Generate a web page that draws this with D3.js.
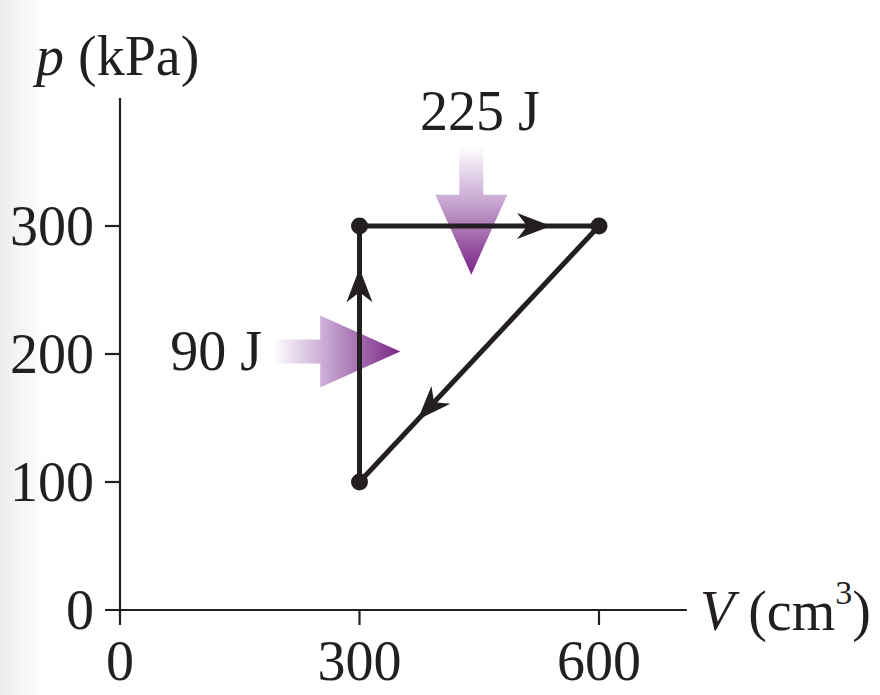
<!DOCTYPE html>
<html><head><meta charset="utf-8">
<script src="https://cdn.jsdelivr.net/npm/d3@7"></script>
<style>html,body{margin:0;padding:0;background:#fff}svg{display:block}</style>
</head><body>
<svg id="c" width="880" height="695"></svg>
<script>
// ---- data ----
const cycleV = [300, 300, 600, 300];          // cm^3
const cycleP = [100, 300, 300, 100];          // kPa
const vertexV = [300, 300, 600];
const vertexP = [100, 300, 300];
const arrowFrac = [0.835, 0.8, 0.757];        // position of direction arrow along each segment
const xTicks = [0, 300, 600];
const yTicks = [0, 100, 200, 300];
const heatLabels = ["225 J", "90 J"];
const heatTipV = [440, 351];
const heatTipP = [262, 202];

const svg = d3.select("#c");
const font = "'Liberation Serif','Times New Roman',serif";
const x = d3.scaleLinear().domain([0, 710]).range([120, 120 + 710 * (479 / 600)]);
const y = d3.scaleLinear().domain([0, 400]).range([610, 98]);

const defs = svg.append("defs");
// faint left margin shading
const lg = defs.append("linearGradient").attr("id", "edge").attr("x1", 0).attr("x2", 1);
lg.append("stop").attr("offset", 0).attr("stop-color", "#ececec");
lg.append("stop").attr("offset", 1).attr("stop-color", "#ffffff");
svg.append("rect").attr("x", 0).attr("y", 0).attr("width", 45).attr("height", 695).attr("fill", "url(#edge)");

// axes
const ax = svg.append("g").attr("stroke", "#231f20").attr("stroke-width", 2.2);
ax.append("line").attr("x1", x(0)).attr("x2", x(0)).attr("y1", y(400)).attr("y2", y(0) + 15);
ax.append("line").attr("x1", x(0) - 15).attr("x2", x(710)).attr("y1", y(0)).attr("y2", y(0));
ax.selectAll(".yt").data(yTicks.filter(d => d > 0)).join("line")
  .attr("x1", x(0) - 15).attr("x2", x(0)).attr("y1", d => y(d)).attr("y2", d => y(d));
ax.selectAll(".xt").data(xTicks.filter(d => d > 0)).join("line")
  .attr("x1", d => x(d)).attr("x2", d => x(d)).attr("y1", y(0)).attr("y2", y(0) + 15);

const txt = svg.append("g").attr("font-family", font).attr("font-size", 56).attr("fill", "#231f20");
txt.selectAll(".yl").data(yTicks).join("text")
  .attr("x", 94).attr("y", d => y(d) + 19).attr("text-anchor", "end").text(d => d);
txt.selectAll(".xl").data(xTicks).join("text")
  .attr("x", d => x(d)).attr("y", 680).attr("text-anchor", "middle").text(d => d);

const pl = txt.append("text").attr("x", 36).attr("y", 75);
pl.append("tspan").attr("font-style", "italic").text("p");
pl.append("tspan").text(" (kPa)");
const vl = txt.append("text").attr("x", 700).attr("y", 630);
vl.append("tspan").attr("font-style", "italic").text("V");
vl.append("tspan").text(" (cm");
vl.append("tspan").attr("font-size", 34).attr("dy", -26).text("3");
vl.append("tspan").attr("dy", 26).text(")");

// heat arrows: gradient defined in the arrow's local frame (tip at origin, pointing +x)
const hx = heatTipV.map(v => x(v)), hy = heatTipP.map(p => y(p));
const gr = defs.append("linearGradient").attr("id", "heat").attr("gradientUnits", "userSpaceOnUse")
  .attr("x1", -128).attr("x2", 0).attr("y1", 0).attr("y2", 0);
gr.append("stop").attr("offset", 0).attr("stop-color", "#ffffff");
gr.append("stop").attr("offset", 0.42).attr("stop-color", "#c8a8d2");
gr.append("stop").attr("offset", 1).attr("stop-color", "#7a2486");

const heatShape = "M0,0 L-80,-36 L-80,-12 L-128,-12 L-128,12 L-80,12 L-80,36 Z";
svg.append("path").attr("d", heatShape).attr("fill", "url(#heat)")
  .attr("transform", `translate(${hx[0]},${hy[0]}) rotate(90)`);
svg.append("path").attr("d", heatShape).attr("fill", "url(#heat)")
  .attr("transform", `translate(${hx[1]},${hy[1]})`);

txt.append("text").attr("x", 420).attr("y", 130).text(heatLabels[0]);
txt.append("text").attr("x", 262).attr("y", 370).attr("text-anchor", "end").text(heatLabels[1]);

// cycle path
const line = d3.line().x((d, i) => x(cycleV[i])).y((d, i) => y(cycleP[i]));
svg.append("path").attr("d", line(cycleV)).attr("fill", "none")
  .attr("stroke", "#231f20").attr("stroke-width", 5).attr("stroke-linejoin", "miter");

// direction arrows
const head = "M0,0 L-34,-13 L-24,0 L-34,13 Z";
arrowFrac.forEach((f, i) => {
  const x0 = x(cycleV[i]), y0 = y(cycleP[i]), x1 = x(cycleV[i + 1]), y1 = y(cycleP[i + 1]);
  const px = x0 + (x1 - x0) * f, py = y0 + (y1 - y0) * f;
  const ang = Math.atan2(y1 - y0, x1 - x0) * 180 / Math.PI;
  svg.append("path").attr("d", head).attr("fill", "#231f20")
    .attr("transform", `translate(${px},${py}) rotate(${ang})`);
});

svg.selectAll(".pt").data(vertexV).join("circle")
  .attr("cx", d => x(d)).attr("cy", (d, i) => y(vertexP[i])).attr("r", 8.5).attr("fill", "#231f20");
</script>
</body></html>
